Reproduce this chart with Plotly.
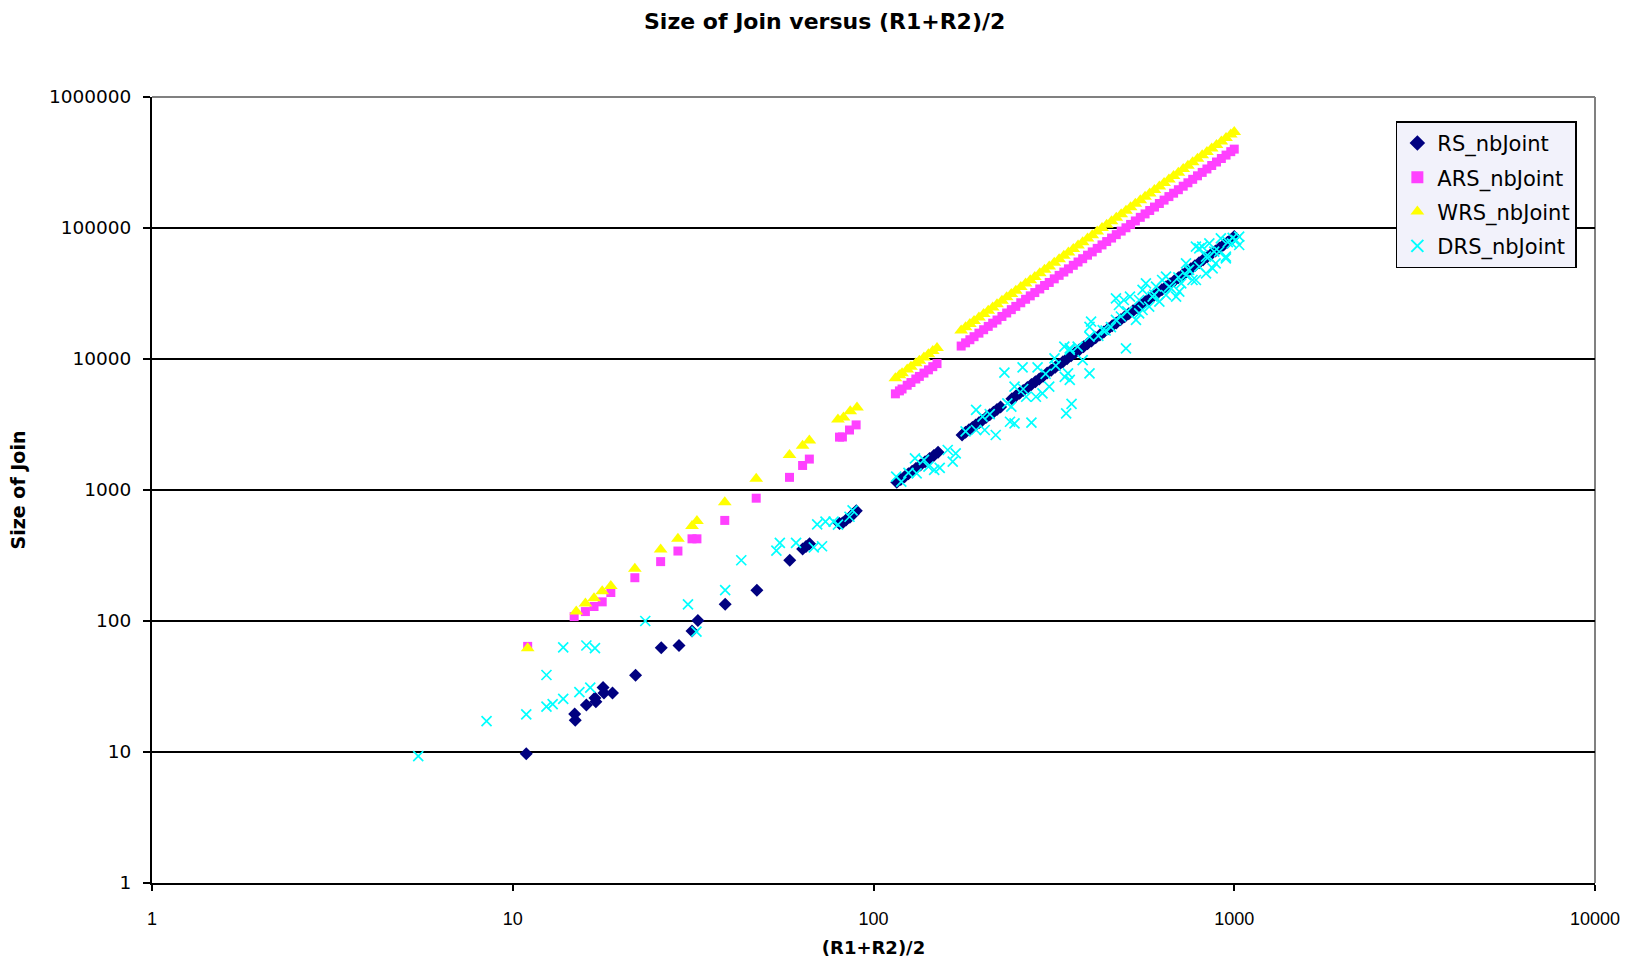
import plotly.graph_objects as go

# ---------------- data ----------------
RS_x = [10.9, 14.85, 14.9, 16.0, 16.9, 17.0, 17.8, 17.9, 18.9, 21.9, 25.8, 28.9, 31.4, 32.6, 38.8, 47.5,
        58.6, 63.6, 65.0, 66.5, 80.5, 82.0, 83.9, 86.0, 88.0, 89.6,
        116, 119, 122, 125, 128, 131, 135, 139, 143, 147, 151,
        176, 180, 184, 188, 192, 196, 200, 205, 210, 215, 220, 225, 242, 248, 254, 260, 267, 274, 281,
        288, 295, 303, 311, 319, 327, 335, 344, 353, 362, 372, 382, 392, 402, 413, 424, 435, 447, 459,
        471, 484, 497, 510, 524, 538, 552, 567, 582, 598, 614, 630, 647, 664, 682, 700, 719, 738, 758,
        778, 799, 820, 842, 864, 887, 910, 934, 958, 983, 1000]
RS_y = [9.7, 19.5, 17.5, 22.8, 25.8, 24.2, 31.1, 28.2, 28.2, 38.5, 62.5, 65, 84, 101, 134, 172,
        291, 355, 370, 389, 554, 560, 590, 620, 660, 694,
        1144, 1204, 1265, 1328, 1393, 1459, 1549, 1642, 1738, 1837, 1938,
        2633, 2754, 2878, 3004, 3133, 3265, 3400, 3572, 3749, 3929, 4114, 4303, 4978, 5228, 5484, 5746,
        6060, 6381, 6712, 7050, 7397, 7804, 8221, 8650, 9089, 9539, 10059, 10592, 11139, 11763, 12404,
        13061, 13736, 14498, 15281, 16084, 16984, 17908, 18856, 19912, 20996, 22109, 23339, 24603, 25900,
        27327, 28792, 30396, 32045, 33737, 35582, 37476, 39536, 41650, 43942, 46295, 48838, 51449, 54264,
        57154, 60262, 63452, 66875, 70389, 74150, 78010, 82135, 86000]

ARS_x = [11.0, 14.8, 15.9, 16.8, 17.7, 18.7, 21.8, 25.7, 28.7, 31.4, 32.4, 38.7, 47.3, 58.5, 63.6, 66.4,
         80.5, 82.0, 85.8, 89.5,
         115, 118, 120, 124, 127, 131, 134, 138, 142, 146, 150,
         175, 180, 185, 190, 196, 202, 208, 214, 220, 227, 234, 241, 248, 256, 264, 272, 280, 289, 298,
         307, 317, 327, 337, 347, 358, 369, 380, 392, 404, 417, 430, 443, 457, 471, 486, 501, 516, 532,
         549, 566, 583, 601, 620, 639, 659, 679, 700, 722, 744, 767, 791, 815, 840, 866, 893, 921, 949,
         978, 1000]
ARS_y = [64, 108, 118, 129, 140, 165, 214, 284, 342, 424, 424, 586, 866, 1249, 1539, 1722,
         2533, 2540, 2870, 3140,
         5422, 5709, 5904, 6304, 6613, 7036, 7362, 7808, 8267, 8740, 9225,
         12556, 13284, 14032, 14801, 15751, 16730, 17738, 18776, 19844, 21127, 22450, 23813, 25217, 26870,
         28575, 30333, 32144, 34244, 36410, 38400, 40900, 43500, 46100, 48800, 51900, 55000, 58300, 62000,
         65700, 69900, 74300, 78800, 83800, 89000, 94700, 100400, 106500, 113200, 120600, 128100, 136000,
         144500, 153800, 163300, 173700, 184400, 196000, 208500, 221400, 235300, 250300, 265700, 282200,
         300000, 319000, 339300, 360200, 382600, 400000]

WRS_x = [11.0, 15.0, 15.9, 16.8, 17.7, 18.7, 21.8, 25.7, 28.7, 31.4, 32.4, 38.7, 47.3, 58.5, 63.6, 66.4,
         79.7, 82.6, 86.2, 90.0,
         115, 118, 120, 124, 127, 131, 134, 138, 142, 146, 150,
         175, 180, 185, 190, 196, 202, 208, 214, 220, 227, 234, 241, 248, 256, 264, 272, 280, 289, 298,
         307, 317, 327, 337, 347, 358, 369, 380, 392, 404, 417, 430, 443, 457, 471, 486, 501, 516, 532,
         549, 566, 583, 601, 620, 639, 659, 679, 700, 722, 744, 767, 791, 815, 840, 866, 893, 921, 949,
         978, 1000]
WRS_y = [62, 118, 136, 149, 169, 185, 250, 352, 425, 532, 580, 805, 1218, 1846, 2180, 2385,
         3460, 3580, 4000, 4270,
         7142, 7519, 7776, 8303, 8710, 9267, 9696, 10284, 10889, 11511, 12150,
         16538, 17496, 18482, 19494, 20745, 22034, 23363, 24730, 26136, 27826, 29568, 31364, 33212, 35389,
         37636, 39951, 42336, 45101, 47954, 50894, 54264, 57742, 61327, 65021, 69209, 73527, 77976, 82979,
         88137, 93900, 99846, 105974, 112778, 119794, 127546, 135541, 143778, 152833, 162757, 172992,
         183540, 195049, 207576, 220493, 234512, 248962, 264600, 281493, 298909, 317676, 337868, 358682,
         381024, 404976, 430622, 458050, 486325, 516501, 540000]

DRS_x = [5.47, 8.46, 10.9, 12.4, 12.4, 12.9, 13.8, 13.8, 15.3, 16.0, 16.9, 16.4, 23.3, 30.6, 32.3, 38.8,
         43.0, 53.8, 55.0, 61.0, 68.3, 72.0, 69.8, 73.6, 77.5, 79.7, 85.8, 87.5,
         115.6, 119.4, 125, 130.3, 131.7, 138, 142, 147.3, 152.6, 160.6, 165.8, 169, 180, 192.5, 192.5,
         200.6, 203.4, 210, 218.2, 230.6, 235, 239, 241, 246, 246, 259, 260, 265, 274, 282, 285, 294,
         300, 307, 317.5, 320, 338, 339, 342, 346, 350, 350, 350, 354, 368, 380, 397, 397, 397, 401,
         420, 432, 440, 455, 470, 470, 479, 485, 494, 501, 505, 514, 534, 545, 545, 557, 557, 569, 581,
         594, 600, 607, 620, 631, 647, 647, 660, 668, 690, 700, 704, 713, 735, 735, 747, 750, 766, 783,
         783, 800, 800, 815, 835, 835, 850, 853, 871, 880, 888, 908, 918, 948, 948, 960, 985, 990, 1011,
         1032, 1032]
DRS_y = [9.3, 17.2, 19.4, 38.7, 22.2, 23.2, 62.9, 25.4, 28.6, 65, 62, 31, 100, 134, 83, 172,
         291, 344, 395, 395, 365, 372, 547, 573, 573, 545, 625, 700,
         1263, 1157, 1350, 1746, 1341, 1700, 1510, 1422, 1473, 2020, 1645, 1906, 2800, 4085, 2870,
         3630, 2870, 3800, 2630, 7860, 4590, 3320, 4330, 3220, 6150, 8630, 5900, 5150, 3270, 5150, 8630, 5470,
         7700, 6150, 10100, 8900, 12410, 7300, 3850, 7780, 6920, 12050, 11720, 4540, 12410, 9820, 7780, 17600, 14800, 19270,
         15000, 16630, 16500, 17500, 19860, 29000, 25840, 21100, 28200, 12050, 23100, 29900, 19860, 28200, 22300, 23660, 33650, 37830, 25070,
         29900, 31000, 35650, 27370, 40100, 30800, 42500, 35650, 34640, 29900, 42000, 32650, 37830, 43750, 53750, 47800, 48000, 40100, 72000,
         40100, 50680, 70000, 72000, 60400, 45100, 60400, 76400, 49200, 66000, 53750, 65900, 83400, 58700, 60400, 78000, 76400, 84000, 80900,
         74200, 85900]

SERIES = ["RS_nbJoint", "ARS_nbJoint", "WRS_nbJoint", "DRS_nbJoint"]
X_TICKS = [1, 10, 100, 1000, 10000]
Y_TICKS = [1, 10, 100, 1000, 10000, 100000, 1000000]

# ---------------- figure ----------------
fig = go.Figure()
fig.add_trace(go.Scatter(x=RS_x, y=RS_y, mode="markers", name=SERIES[0], legendgroup="g1",
                         marker=dict(symbol="diamond", size=10, color="#000080")))
fig.add_trace(go.Scatter(x=ARS_x, y=ARS_y, mode="markers", name=SERIES[1], legendgroup="g2",
                         marker=dict(symbol="square", size=9, color="#FF40FF")))
fig.add_trace(go.Scatter(x=WRS_x, y=WRS_y, mode="markers", name=SERIES[2], legendgroup="g3",
                         marker=dict(symbol="triangle-up", size=12, color="#FFFF00")))
fig.add_trace(go.Scatter(x=DRS_x, y=DRS_y, mode="markers", name=SERIES[3], legendgroup="g4",
                         marker=dict(symbol="x-thin", size=10, color="#00FFFF",
                                     line=dict(color="#00FFFF", width=1.7))))

fig.update_layout(
    width=1633, height=970,
    margin=dict(l=152, r=38, t=97, b=87),
    paper_bgcolor="white", plot_bgcolor="white",
    title=dict(text="<b>Size of Join versus (R1+R2)/2</b>", x=0.505, xref="container",
               y=0.978, yref="container", xanchor="center", yanchor="middle",
               font=dict(family="DejaVu Sans", size=22, color="black")),
    legend=dict(x=0.862, y=0.969, xanchor="left", yanchor="top",
                bgcolor="#F2F2FB", bordercolor="black", borderwidth=1.5,
                tracegroupgap=4, itemsizing="constant",
                font=dict(family="DejaVu Sans", size=21, color="black")),
    showlegend=True,
)
fig.update_xaxes(type="log", range=[0, 4], tickmode="array", tickvals=X_TICKS,
                 ticktext=[str(v) for v in X_TICKS],
                 showgrid=False, zeroline=False, showline=True, linecolor="black", linewidth=2,
                 ticks="outside", ticklen=6, tickcolor="black", tickwidth=1.5,
                 ticklabelstandoff=12,
                 tickfont=dict(family="Liberation Sans", size=18, color="black"),
                 title=dict(text="<b>(R1+R2)/2</b>", standoff=14,
                            font=dict(family="DejaVu Sans", size=18, color="black")))
fig.update_yaxes(type="log", range=[0, 6], tickmode="array", tickvals=Y_TICKS,
                 ticktext=[str(v) for v in Y_TICKS],
                 showgrid=True, gridcolor="black", gridwidth=1.5, zeroline=False,
                 showline=True, linecolor="black", linewidth=2,
                 ticks="outside", ticklen=7, tickcolor="black", tickwidth=1.5,
                 ticklabelstandoff=8,
                 tickfont=dict(family="DejaVu Sans", size=18.5, color="black"),
                 title=dict(text="<b>Size of Join</b>", standoff=18,
                            font=dict(family="DejaVu Sans", size=19, color="black")))
# gray plot-area border (top and right)
fig.add_shape(type="line", xref="paper", yref="paper", x0=0, x1=1, y0=1, y1=1,
              line=dict(color="#808080", width=2), layer="below")
fig.add_shape(type="line", xref="paper", yref="paper", x0=1, x1=1, y0=0, y1=1,
              line=dict(color="#808080", width=2), layer="below")

fig.write_html("out.html")
